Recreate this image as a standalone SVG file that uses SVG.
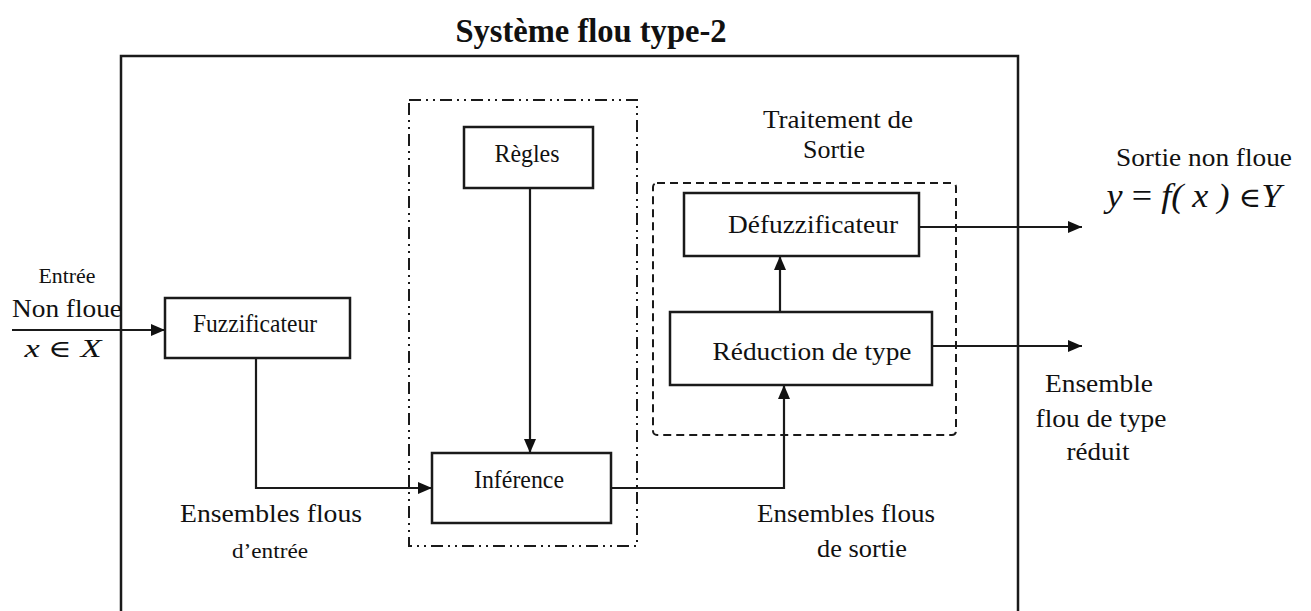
<svg xmlns="http://www.w3.org/2000/svg" width="1311" height="611" viewBox="0 0 1311 611">
  <style>
    .box { fill: #ffffff; stroke: #1a1a1a; stroke-width: 2.5; }
    .frame { fill: none; stroke: #1a1a1a; stroke-width: 2.5; }
    .grp-dashdot { fill: none; stroke: #1a1a1a; stroke-width: 2; stroke-dasharray: 12 5 2 5 2 5; }
    .grp-dash { fill: none; stroke: #1a1a1a; stroke-width: 2; stroke-dasharray: 8 5; }
    .wire { fill: none; stroke: #1a1a1a; stroke-width: 2.2; }
    text { font-family: "Liberation Serif", "Times New Roman", serif; fill: #111111; }
    .lbl { font-size: 26px; }
    .small { font-size: 20px; }
    .title { font-size: 34px; font-weight: bold; }
    .math { font-style: italic; }
    .op { font-style: normal; font-family: "DejaVu Serif", serif; }
    .upright { font-style: normal; }
  </style>
  <defs>
    <marker id="arrow" viewBox="0 0 14 12" refX="14" refY="6" markerWidth="14" markerHeight="12" markerUnits="userSpaceOnUse" orient="auto">
      <path d="M0,0 L14,6 L0,12 Z" fill="#111111"/>
    </marker>
  </defs>

  <!-- title and system frame (open at the bottom) -->
  <text class="title" x="591" y="42" text-anchor="middle" textLength="271" lengthAdjust="spacingAndGlyphs">Système flou type-2</text>
  <path class="frame" d="M121,611 L121,56 L1018,56 L1018,611"/>

  <!-- grouping outlines -->
  <rect class="grp-dashdot" x="409" y="100" width="228" height="446"/>
  <rect class="grp-dash" x="653" y="183" width="303" height="252" rx="4"/>

  <!-- connectors -->
  <g id="connectors">
    <line class="wire" x1="12" y1="330" x2="165" y2="330" marker-end="url(#arrow)"/>
    <polyline class="wire" points="256,358 256,488 432,488" marker-end="url(#arrow)"/>
    <line class="wire" x1="530" y1="188" x2="530" y2="453" marker-end="url(#arrow)"/>
    <polyline class="wire" points="611,488 784,488 784,385" marker-end="url(#arrow)"/>
    <line class="wire" x1="780" y1="312" x2="780" y2="256" marker-end="url(#arrow)"/>
    <line class="wire" x1="919" y1="227" x2="1082" y2="227" marker-end="url(#arrow)"/>
    <line class="wire" x1="932" y1="346" x2="1082" y2="346" marker-end="url(#arrow)"/>
  </g>

  <!-- processing blocks -->
  <g id="fuzzificateur">
    <rect class="box" x="165" y="298" width="185" height="60"/>
    <text class="lbl" x="255" y="332" text-anchor="middle" textLength="124" lengthAdjust="spacingAndGlyphs">Fuzzificateur</text>
  </g>
  <g id="regles">
    <rect class="box" x="464" y="127" width="129" height="61"/>
    <text class="lbl" x="527" y="162" text-anchor="middle" textLength="65" lengthAdjust="spacingAndGlyphs">Règles</text>
  </g>
  <g id="inference">
    <rect class="box" x="432" y="453" width="179" height="70"/>
    <text class="lbl" x="519" y="488" text-anchor="middle" textLength="90" lengthAdjust="spacingAndGlyphs">Inférence</text>
  </g>
  <g id="defuzzificateur">
    <rect class="box" x="684" y="193" width="235" height="63"/>
    <text class="lbl" x="813" y="233" text-anchor="middle" textLength="170" lengthAdjust="spacingAndGlyphs">Défuzzificateur</text>
  </g>
  <g id="reduction">
    <rect class="box" x="670" y="312" width="262" height="73"/>
    <text class="lbl" x="812" y="360" text-anchor="middle" textLength="199" lengthAdjust="spacingAndGlyphs">Réduction de type</text>
  </g>

  <!-- free labels -->
  <g id="labels">
    <text class="small" x="67" y="283" text-anchor="middle" textLength="57" lengthAdjust="spacingAndGlyphs">Entrée</text>
    <text class="lbl" x="67" y="317" text-anchor="middle" textLength="110" lengthAdjust="spacingAndGlyphs">Non floue</text>
    <text class="lbl math" x="63" y="357" text-anchor="middle" font-size="31" textLength="77" lengthAdjust="spacingAndGlyphs">x <tspan class="op" font-size="24">∈</tspan> X</text>

    <text class="lbl" x="271" y="522" text-anchor="middle" textLength="182" lengthAdjust="spacingAndGlyphs">Ensembles flous</text>
    <text class="small" x="270" y="558" text-anchor="middle" textLength="76" lengthAdjust="spacingAndGlyphs">d’entrée</text>

    <text class="lbl" x="846" y="522" text-anchor="middle" textLength="178" lengthAdjust="spacingAndGlyphs">Ensembles flous</text>
    <text class="lbl" x="862" y="557" text-anchor="middle" textLength="90" lengthAdjust="spacingAndGlyphs">de sortie</text>

    <text class="lbl" x="838" y="128" text-anchor="middle" textLength="150" lengthAdjust="spacingAndGlyphs">Traitement de</text>
    <text class="lbl" x="834" y="158" text-anchor="middle" textLength="62" lengthAdjust="spacingAndGlyphs">Sortie</text>

    <text class="lbl" x="1204" y="166" text-anchor="middle" textLength="176" lengthAdjust="spacingAndGlyphs">Sortie non floue</text>
    <text class="math" x="1194" y="207" text-anchor="middle" font-size="33" textLength="175" lengthAdjust="spacingAndGlyphs">y <tspan class="upright">=</tspan> f( x ) <tspan class="op" font-size="28">∈</tspan>Y</text>

    <text class="lbl" x="1099" y="392" text-anchor="middle" textLength="108" lengthAdjust="spacingAndGlyphs">Ensemble</text>
    <text class="lbl" x="1101" y="427" text-anchor="middle" textLength="131" lengthAdjust="spacingAndGlyphs">flou de type</text>
    <text class="lbl" x="1098" y="460" text-anchor="middle" textLength="63" lengthAdjust="spacingAndGlyphs">réduit</text>
  </g>
</svg>
